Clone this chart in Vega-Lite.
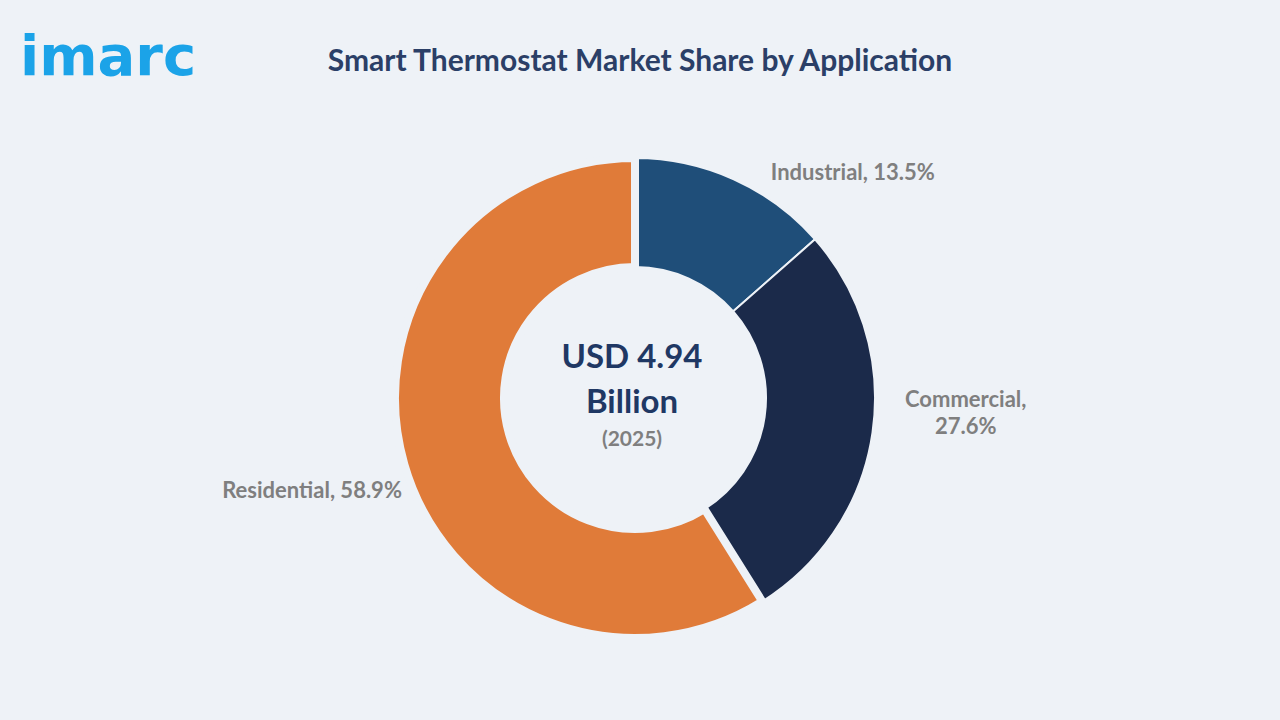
{
  "$schema": "https://vega.github.io/schema/vega-lite/v6.json",
  "width": 1270,
  "height": 644,
  "autosize": {"type": "none"},
  "padding": {"left": 0, "top": 76, "right": 10, "bottom": 0},
  "background": "#EEF2F7",
  "config": {"view": {"stroke": null}},
  "title": {
    "text": "Smart Thermostat Market Share by Application",
    "font": "Lato",
    "fontSize": 30,
    "fontWeight": "bold",
    "color": "#2B3F67",
    "anchor": "middle",
    "frame": "group",
    "offset": -47,
    "dx": 5
  },
  "data": {
    "values": [
      {"application": "Industrial", "share": 13.5, "label": "Industrial, 13.5%"},
      {"application": "Commercial", "share": 27.6, "label": "Commercial,\n27.6%"},
      {"application": "Residential", "share": 58.9, "label": "Residential, 58.9%"}
    ]
  },
  "layer": [
    {
      "mark": {"type": "arc", "innerRadius": 131, "outerRadius": 240, "stroke": "#EEF2F7"},
      "encoding": {
        "theta": {"field": "share", "type": "quantitative", "stack": true},
        "order": {"field": "share", "sort": "ascending"},
        "color": {
          "field": "application",
          "type": "nominal",
          "scale": {"domain": ["Industrial", "Commercial", "Residential"], "range": ["#1F4E79", "#1B2A4A", "#E07B39"]},
          "legend": null
        },
        "strokeWidth": {"condition": {"test": "datum.application === 'Residential'", "value": 8}, "value": 2}
      }
    },
    {
      "mark": {"type": "text", "radius": 336, "font": "Lato", "fontSize": 22, "fontWeight": "bold", "color": "#7F7F7F", "align": "center", "baseline": "middle"},
      "encoding": {
        "theta": {"field": "share", "type": "quantitative", "stack": true},
        "order": {"field": "share", "sort": "ascending"},
        "text": {"condition": {"test": "datum.application === 'Residential'", "field": "label", "type": "nominal"}, "value": ""}
      }
    },
    {
      "mark": {"type": "text", "radius": 316, "dx": 18, "dy": -44, "lineBreak": "\n", "lineHeight": 27, "font": "Lato", "fontSize": 22, "fontWeight": "bold", "color": "#7F7F7F", "align": "center", "baseline": "middle"},
      "encoding": {
        "theta": {"field": "share", "type": "quantitative", "stack": true},
        "order": {"field": "share", "sort": "ascending"},
        "text": {"condition": {"test": "datum.application === 'Commercial'", "field": "label", "type": "nominal"}, "value": ""}
      }
    },
    {
      "mark": {"type": "text", "radius": 313, "dx": 89, "dy": 60, "font": "Lato", "fontSize": 22, "fontWeight": "bold", "color": "#7F7F7F", "align": "center", "baseline": "middle"},
      "encoding": {
        "theta": {"field": "share", "type": "quantitative", "stack": true},
        "order": {"field": "share", "sort": "ascending"},
        "text": {"condition": {"test": "datum.application === 'Industrial'", "field": "label", "type": "nominal"}, "value": ""}
      }
    },
    {
      "data": {"values": [{"t": "USD 4.94"}]},
      "mark": {"type": "text", "dy": -30, "dx": -3, "font": "Lato", "fontSize": 33, "fontWeight": "bold", "color": "#1F3864", "align": "center", "baseline": "alphabetic"},
      "encoding": {"text": {"field": "t", "type": "nominal"}}
    },
    {
      "data": {"values": [{"t": "Billion"}]},
      "mark": {"type": "text", "dy": 15, "dx": -3, "font": "Lato", "fontSize": 33, "fontWeight": "bold", "color": "#1F3864", "align": "center", "baseline": "alphabetic"},
      "encoding": {"text": {"field": "t", "type": "nominal"}}
    },
    {
      "data": {"values": [{"t": "(2025)"}]},
      "mark": {"type": "text", "dy": 48, "dx": -3, "font": "Lato", "fontSize": 21, "fontWeight": "bold", "color": "#7F7F7F", "align": "center", "baseline": "alphabetic"},
      "encoding": {"text": {"field": "t", "type": "nominal"}}
    },
    {
      "data": {"values": [{"t": "imarc"}]},
      "mark": {"type": "text", "dx": -615, "dy": -323, "font": "DejaVu Sans", "fontSize": 56, "fontWeight": "bold", "color": "#1BA3E8", "align": "left", "baseline": "alphabetic"},
      "encoding": {"text": {"field": "t", "type": "nominal"}}
    }
  ]
}
